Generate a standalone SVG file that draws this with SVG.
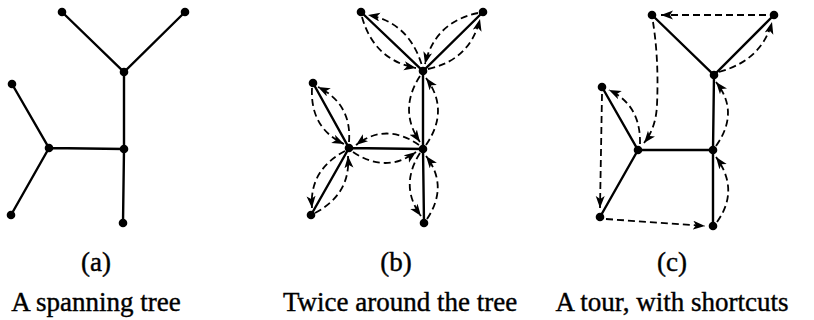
<svg xmlns="http://www.w3.org/2000/svg" width="814" height="320" viewBox="0 0 814 320">
<style>
.edge{stroke:#000;stroke-width:2.4;fill:none;stroke-linecap:round}
.dash{stroke:#000;stroke-width:1.8;fill:none;stroke-dasharray:7 4;marker-end:url(#ah)}
.node{fill:#000}
.lbl{font-family:"Liberation Serif","Times New Roman",serif;font-size:27px;fill:#000;stroke:#000;stroke-width:0.4;text-anchor:middle}
</style>
<defs>
<marker id="ah" markerUnits="userSpaceOnUse" markerWidth="14" markerHeight="10" refX="12" refY="4.5" orient="auto">
<path d="M0,0 L12,4.5 L0,9 L3,4.5 z" fill="#000"/>
</marker>
</defs>
<!-- Tree (a) -->
<g id="treeA">
<g id="a-edges">
<path class="edge" d="M62,12 L124,72 L185,12 M124,72 L124,149 L123,223 M124,149 L49,148 L12,84 M49,148 L11,215"/>
</g>
<g id="a-n1"><circle class="node" cx="62" cy="12" r="4.3"/></g>
<g id="a-n2"><circle class="node" cx="185" cy="12" r="4.3"/></g>
<g id="a-n3"><circle class="node" cx="124" cy="72" r="4.3"/></g>
<g id="a-n4"><circle class="node" cx="12" cy="84" r="4.3"/></g>
<g id="a-n5"><circle class="node" cx="49" cy="148" r="4.3"/></g>
<g id="a-n6"><circle class="node" cx="124" cy="149" r="4.3"/></g>
<g id="a-n7"><circle class="node" cx="11" cy="215" r="4.3"/></g>
<g id="a-n8"><circle class="node" cx="123" cy="223" r="4.3"/></g>
</g>
<!-- Tree (b) -->
<g id="treeB">
<g id="b-edges">
<path class="edge" d="M361,12 L423,71 L483,12 M423,71 L423,149 L424,223 M423,149 L349,148 L313,83 M349,148 L311,215"/>
</g>
<g id="b-n1"><circle class="node" cx="361" cy="12" r="4.3"/></g>
<g id="b-n2"><circle class="node" cx="483" cy="12" r="4.3"/></g>
<g id="b-n3"><circle class="node" cx="423" cy="71" r="4.3"/></g>
<g id="b-n4"><circle class="node" cx="313" cy="83" r="4.3"/></g>
<g id="b-n5"><circle class="node" cx="349" cy="148" r="4.3"/></g>
<g id="b-n6"><circle class="node" cx="423" cy="149" r="4.3"/></g>
<g id="b-n7"><circle class="node" cx="311" cy="215" r="4.3"/></g>
<g id="b-n8"><circle class="node" cx="424" cy="223" r="4.3"/></g>
</g>
<g id="b-connectors">
<path class="dash" d="M421.5,64 Q408,22 368,15"/>
<path class="dash" d="M362,17 Q374,60 416,68"/>
<path class="dash" d="M428,69 Q470,60 480,19"/>
<path class="dash" d="M478,13 Q435,22 425,64"/>
<path class="dash" d="M420,76 Q398,110 420,142"/>
<path class="dash" d="M426,145 Q450,110 426,78"/>
<path class="dash" d="M419,145 Q386,122 356,145"/>
<path class="dash" d="M353,152 Q386,174 416,152"/>
<path class="dash" d="M349,142 Q352,104 318,87"/>
<path class="dash" d="M312,88 Q310,128 344,144"/>
<path class="dash" d="M345,151 Q309,170 312,208"/>
<path class="dash" d="M315,213 Q351,194 348,156"/>
<path class="dash" d="M420,153 Q399,186 421,216"/>
<path class="dash" d="M427,219 Q449,186 426,156"/>
</g>
<!-- Tree (c) -->
<g id="treeC">
<g id="c-edges">
<path class="edge" d="M652,15 L714,75 L774,15 M714,75 L713,150 L713,226 M713,150 L638,150 L602,87 M638,150 L600,217"/>
</g>
<g id="c-n1"><circle class="node" cx="652" cy="15" r="4.3"/></g>
<g id="c-n2"><circle class="node" cx="774" cy="15" r="4.3"/></g>
<g id="c-n3"><circle class="node" cx="714" cy="75" r="4.3"/></g>
<g id="c-n4"><circle class="node" cx="602" cy="87" r="4.3"/></g>
<g id="c-n5"><circle class="node" cx="638" cy="150" r="4.3"/></g>
<g id="c-n6"><circle class="node" cx="713" cy="150" r="4.3"/></g>
<g id="c-n7"><circle class="node" cx="600" cy="217" r="4.3"/></g>
<g id="c-n8"><circle class="node" cx="713" cy="226" r="4.3"/></g>
</g>
<g id="c-connectors">
<path class="dash" d="M717,222 Q740,190 716,157"/>
<path class="dash" d="M716,146 Q740,112 716,82"/>
<path class="dash" d="M719,72 Q762,60 772,22"/>
<path class="dash" d="M766,15 L661,15"/>
<path class="dash" d="M653,22 Q659,60 657,105 Q656,128 644,143"/>
<path class="dash" d="M640,144 Q641,105 609,90"/>
<path class="dash" d="M602,94 L600,208"/>
<path class="dash" d="M606,219 L705,226"/>
</g>
<!-- Labels -->
<g id="labels">
<text class="lbl" x="96" y="271">(a)</text>
<text class="lbl" x="96" y="311">A spanning tree</text>
<text class="lbl" x="396" y="271">(b)</text>
<text class="lbl" x="400" y="311">Twice around the tree</text>
<text class="lbl" x="672" y="271">(c)</text>
<text class="lbl" x="672" y="311">A tour, with shortcuts</text>
</g>
</svg>
